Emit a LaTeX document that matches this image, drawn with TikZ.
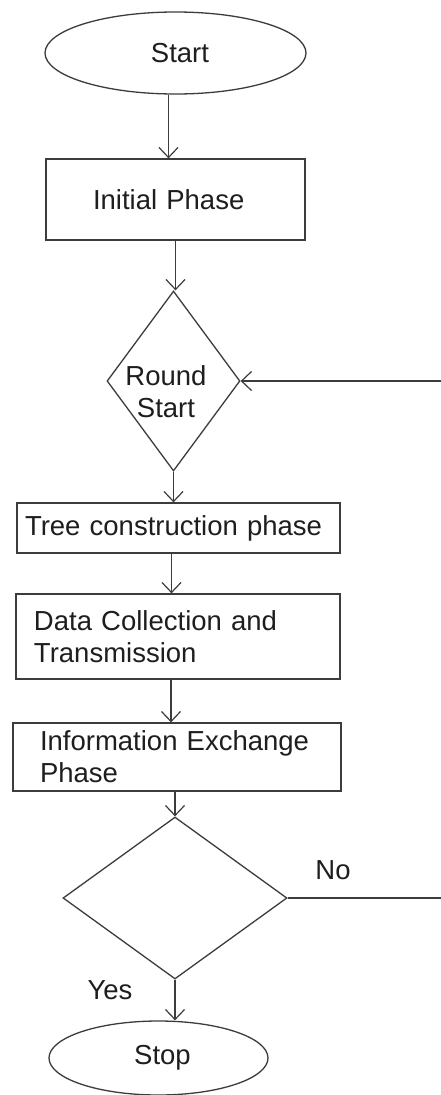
\documentclass[tikz,border=0pt]{standalone}
\usepackage{fontspec}
\setmainfont{Liberation Sans}
\usetikzlibrary{shapes.geometric,arrows.meta}
\definecolor{linec}{HTML}{3C3C3C}
\definecolor{textc}{HTML}{1E1E1E}
\tikzset{
  every node/.style={text=textc, font=\fontsize{27.5}{32}\selectfont},
  line/.style={draw=linec, line width=1.3pt},
  arr/.style={line, -{Straight Barb[length=10pt,width=19pt,line width=1.2pt]}},
  term/.style={line, ellipse, inner sep=0pt},
  box/.style={line, rectangle, inner ysep=0pt, align=left},
  dec/.style={line, diamond, inner sep=0pt},
  txt/.style={align=center, inner sep=0pt}
}
\begin{document}
\begin{tikzpicture}[x=1pt,y=-1pt]
\useasboundingbox (0,0) rectangle (441,1095);
\fill[white] (0,0) rectangle (441,1095);

\node[term, minimum width=261pt, minimum height=82pt] (start) at (175.5,53) {\hspace*{9pt}Start};
\node[box, minimum height=81pt, inner xsep=47pt, text width=165pt] (init) at (175.5,199.5) {Initial Phase};
\node[dec, minimum width=133pt, minimum height=180pt] (rs) at (173.5,381) {};
\node[txt] (rslabel) at (166,392) {Round\\Start};
\node[box, minimum height=50pt, inner xsep=8pt, text width=307pt] (tree) at (178.5,528) {Tree construction phase};
\node[box, minimum height=85pt, inner xsep=18pt, text width=288pt] (data) at (178,636.5) {Data Collection and\\Transmission};
\node[box, minimum height=68pt, inner xsep=27pt, text width=274pt] (info) at (177,757) {Information Exchange\\Phase};
\node[dec, minimum width=224pt, minimum height=162pt] (check) at (175,898) {};
\node[term, minimum width=219pt, minimum height=74pt] (stop) at (158.5,1058) {\hspace*{8pt}Stop};

\node[txt] (no) at (333,870) {No};
\node[txt] (yes) at (110,990) {Yes};

\coordinate (edgeNo) at (441,898);
\coordinate (edgeBack) at (441,381);

\draw[arr] ([xshift=-7pt]start.south) -- ([xshift=-7pt]start.south |- init.north);
\draw[arr] (init.south) -- (init.south |- rs.north);
\draw[arr] (rs.south) -- (rs.south |- tree.north);
\draw[arr] ([xshift=-7pt]tree.south) -- ([xshift=-7pt]tree.south |- data.north);
\draw[arr] ([xshift=-7pt]data.south) -- ([xshift=-7pt]data.south |- info.north);
\draw[arr] (info.south -| check.north) -- (check.north);
\draw[arr] (check.south) -- (check.south |- stop.north);
\draw[line] (check.east) -- (edgeNo);
\draw[arr] (edgeBack) -- (rs.east);
\end{tikzpicture}
\end{document}
